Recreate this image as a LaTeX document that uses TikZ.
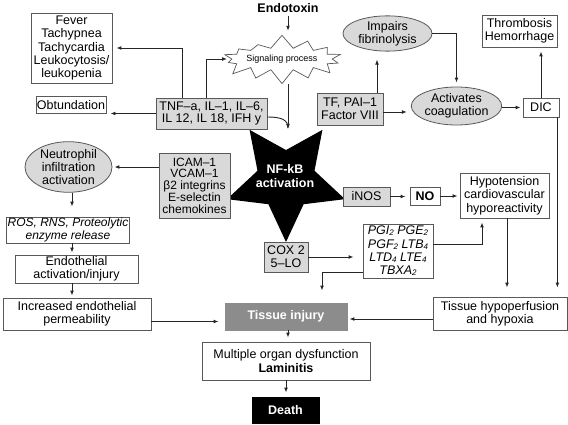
\documentclass[tikz,border=0pt]{standalone}
\usepackage{fontspec}
\setmainfont{Liberation Sans}
\usetikzlibrary{arrows.meta,shapes.geometric,shapes.symbols}
\newcommand\subn[1]{\raisebox{-1pt}{\fontsize{8}{8}\selectfont #1}}
\begin{document}
\begin{tikzpicture}[x=1pt,y=-1pt,
  fnt/.style={font=\fontsize{12.5}{13.3}\selectfont},
  box/.style={draw=black!65, line width=0.8pt, fill=white, align=center, inner sep=1pt, fnt},
  gbox/.style={box, fill=black!15, font=\fontsize{12.5}{11.7}\selectfont},
  ell/.style={ellipse, draw=black!65, line width=0.8pt, fill=black!15, align=center, inner sep=0pt, fnt},
  arr/.style={draw=black!85, line width=0.9pt, -{Latex[length=5pt,width=3.8pt]}, shorten >=4pt},
  ln/.style={draw=black!85, line width=0.9pt}
]
\useasboundingbox (0,0) rectangle (568,425);
\fill[white] (0,0) rectangle (568,425);

% central star
\node[star, star points=5, star point ratio=2.07, minimum size=124pt, inner sep=0pt, fill=black, shape border rotate=180] (nfkb) at (286,180) {};
\node[font=\fontsize{12.5}{13.3}\selectfont\bfseries, text=white, align=center] (nfkbtxt) at (285,176) {NF-kB\\activation};

% top
\node[font=\fontsize{12.5}{13.3}\selectfont\bfseries] (endotoxin) at (288,8) {Endotoxin};
\node[starburst, starburst points=14, starburst point height=14pt, random starburst=7, draw=black!65, line width=0.7pt, fill=white, minimum width=99pt, minimum height=50pt, inner sep=0pt, font=\fontsize{9}{9}\selectfont] (sig) at (282,59) {Signaling process};

\node[box, minimum width=81pt, minimum height=70pt] (fever) at (71.5,48) {Fever\\Tachypnea\\Tachycardia\\Leukocytosis/\\leukopenia};
\node[box, minimum width=70pt, minimum height=17pt] (obt) at (71,105) {Obtundation};
\node[gbox, minimum width=111pt, minimum height=31pt] (tnf) at (211.5,113.5) {TNF–a, IL–1, IL–6,\\IL 12, IL 18, IFH y};

\node[gbox, minimum width=66pt, minimum height=32pt, fnt] (tf) at (350,109) {TF, PAI–1\\Factor VIII};
\node[ell, minimum width=89pt, minimum height=33pt] (imp) at (387.5,33.5) {Impairs\\fibrinolysis};
\node[box, minimum width=75pt, minimum height=32pt] (thromb) at (519.5,31) {Thrombosis\\Hemorrhage};
\node[ell, minimum width=87pt, minimum height=38pt] (activ) at (456.5,106) {Activates\\coagulation};
\node[box, minimum width=36pt, minimum height=19pt] (dic) at (541,107.5) {DIC};

% middle
\node[ell, minimum width=87pt, minimum height=50pt] (neut) at (68.5,167) {Neutrophil\\infiltration\\activation};
\node[gbox, minimum width=71pt, minimum height=65pt, font=\fontsize{12}{11.7}\selectfont] (icam) at (194.5,185.5) {ICAM–1\\VCAM–1\\β2 integrins\\E-selectin\\chemokines};
\node[gbox, minimum width=47pt, minimum height=19pt] (inos) at (366.5,196.5) {iNOS};
\node[box, minimum width=30pt, minimum height=18pt, font=\fontsize{12.5}{13.3}\selectfont\bfseries] (no) at (425,196) {NO};
\node[box, minimum width=89pt, minimum height=45pt] (hypo) at (504.5,195.5) {Hypotension\\cardiovascular\\hyporeactivity};
\node[box, minimum width=120pt, minimum height=26pt, font=\fontsize{12}{12.7}\selectfont\itshape] (ros) at (68,230) {ROS, RNS, Proteolytic\\enzyme release};
\node[box, minimum width=123pt, minimum height=28pt] (endo) at (76.5,269) {Endothelial\\activation/injury};
\node[gbox, minimum width=44pt, minimum height=30pt, fnt] (cox) at (286,257) {COX 2\\5–LO};
\node[box, minimum width=70pt, minimum height=54pt, font=\fontsize{12.5}{13.3}\selectfont\itshape] (pg) at (398,251) {PGI\subn{2} PGE\subn{2}\\PGF\subn{2} LTB\subn{4}\\LTD\subn{4} LTE\subn{4}\\TBXA\subn{2}};

% bottom
\node[box, minimum width=148pt, minimum height=32pt] (incr) at (77,314) {Increased endothelial\\permeability};
\node[box, fill=black!45, draw=black!45, text=white, font=\fontsize{12.5}{13.3}\selectfont\bfseries, minimum width=122pt, minimum height=27pt] (tissue) at (286,316.5) {Tissue injury};
\node[box, minimum width=168pt, minimum height=38pt] (multi) at (286,361) {Multiple organ dysfunction\\\textbf{Laminitis}};
\node[box, fill=black, draw=black, text=white, font=\fontsize{12.5}{13.3}\selectfont\bfseries, minimum width=67pt, minimum height=26pt] (death) at (285.5,410) {Death};
\node[box, minimum width=134pt, minimum height=33pt] (hypoperf) at (500,313.5) {Tissue hypoperfusion\\and hypoxia};

\coordinate (nfin) at (288,133);

% connectors
\draw[arr] (endotoxin.south -| nfin) -- (nfin |- sig.north);
\draw[arr] (nfin |- sig.south) -- (nfin);
\draw[ln] ([yshift=-3.5pt]tnf.east) .. controls (282,117) and (288,120) .. (288,128);
\draw[arr] ([xshift=-29.5pt]tnf.north) |- (fever.east);
\draw[arr] ([xshift=-5.5pt]tnf.north) |- (sig.west);
\draw[arr] (tnf.west) -- (tnf.west -| obt.east);

\draw[arr, shorten >=8pt] ([xshift=27pt]tf.north) -- ([xshift=27pt]tf.north |- imp.south);
\draw[arr] (imp.east) -| (activ.north);
\draw[arr] ([yshift=-3pt]tf.east) -- ([yshift=-3pt]tf.east -| activ.west);
\draw[arr, shorten >=2pt] (activ.east |- dic.west) -- (dic.west);
\draw[arr] (dic.north) -- (dic.north |- thromb.south);
\draw[arr, shorten >=9pt] ([xshift=-2pt]dic.south east) -- ([xshift=-2pt]dic.south east |- hypoperf.north);

\draw[arr, shorten >=2pt] (icam.west |- neut.east) -- (neut.east);
\draw[arr, shorten >=10pt] ([xshift=3.5pt]neut.south) -- ([xshift=3.5pt]neut.south |- ros.north);
\draw[arr, shorten >=2pt] ([xshift=4pt]ros.south) -- ([xshift=4pt]ros.south |- endo.north);
\draw[arr, shorten >=2pt] ([xshift=-4.5pt]endo.south) -- ([xshift=-4.5pt]endo.south |- incr.north);

\draw[arr] (inos.east) -- (inos.east -| no.west);
\draw[arr, shorten >=2pt] (no.east) -- (no.east -| hypo.west);
\draw[arr, shorten >=9pt] (cox.east) -- (cox.east -| pg.west);
\draw[arr] ([yshift=7pt]pg.east) -| ([xshift=-22.5pt]hypo.south);
\draw[arr, shorten >=12pt] ([yshift=-21pt]pg.west) -| ([xshift=36pt]tissue.north);
\draw[arr, shorten >=9pt] ([xshift=2.5pt]hypo.south) -- ([xshift=2.5pt]hypo.south |- hypoperf.north);

\draw[arr, shorten >=6pt] ([yshift=-7.5pt]incr.east) -- ([yshift=-7.5pt]incr.east -| tissue.west);
\draw[arr, shorten >=2pt] ([yshift=-5.5pt]hypoperf.west) -- ([yshift=-5.5pt]hypoperf.west -| tissue.east);
\draw[arr] ([xshift=2pt]tissue.south) -- ([xshift=2pt]tissue.south |- multi.north);
\draw[arr] (multi.south) -- (multi.south |- death.north);
\end{tikzpicture}
\end{document}
